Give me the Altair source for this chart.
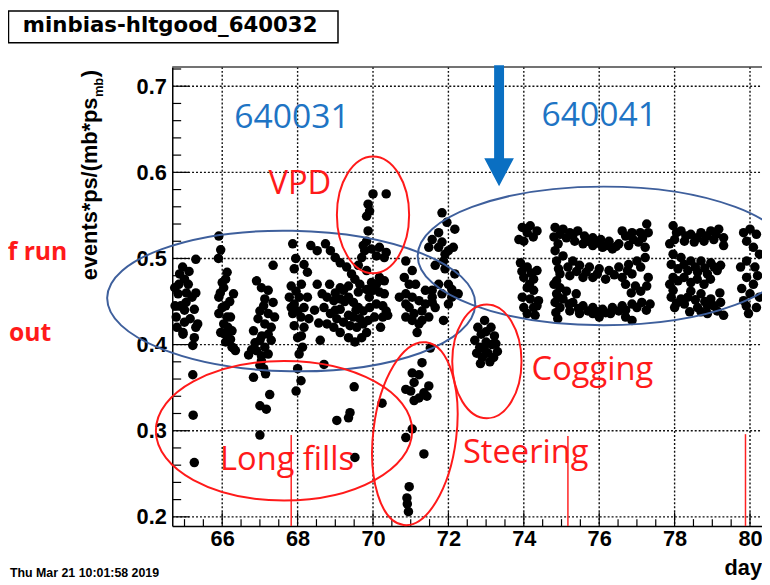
import altair as alt
import pandas as pd

# ---------------- data (day, events*ps/(mb*ps_mb)) ----------------
run_a = [(65.30,0.499),(64.87,0.482),(65.00,0.476),(64.74,0.466),(64.83,0.459),(65.04,0.449),
         (65.26,0.441),(64.78,0.432),(65.00,0.426),(65.35,0.424),(64.96,0.414),(65.26,0.408),
         (65.22,0.399),(65.10,0.470),(64.90,0.445),(65.15,0.430),(64.80,0.420),(65.05,0.460),
         (65.20,0.455),(65.30,0.420),(64.95,0.490),(64.96,0.412),(65.22,0.365),(65.23,0.318),
         (65.26,0.263),(64.85,0.470),(65.12,0.485),(65.00,0.440),(64.75,0.445),(65.30,0.460)]
run_b = [(65.91,0.526),(65.96,0.510),(66.13,0.484),(66.09,0.476),(66.04,0.466),(66.30,0.459),
         (65.91,0.455),(66.09,0.445),(65.91,0.436),(66.13,0.432),(66.04,0.424),(65.96,0.414),
         (66.13,0.410),(66.09,0.403),(66.26,0.397),(66.35,0.393),(66.00,0.443),(66.22,0.432),
         (66.00,0.472),(66.26,0.416),(66.04,0.413),(66.22,0.406),(66.30,0.396),(66.20,0.450),
         (65.95,0.460),(66.15,0.420),(65.90,0.500)]
run_c = [(67.35,0.492),(66.91,0.474),(67.04,0.466),(67.22,0.463),(67.13,0.453),(67.35,0.449),
         (67.00,0.439),(67.22,0.436),(67.39,0.432),(67.13,0.424),(66.83,0.416),(67.22,0.412),
         (67.00,0.405),(67.13,0.397),(66.91,0.393),(67.22,0.389),(67.04,0.381),(67.00,0.376),
         (66.83,0.362),(67.26,0.342),(67.00,0.329),(67.17,0.325),(67.00,0.295),(66.70,0.388),
         (66.87,0.402),(66.78,0.394),(67.04,0.387),(67.10,0.372),(67.15,0.366),(67.30,0.405),
         (67.10,0.445),(67.30,0.420),(66.95,0.430),(67.05,0.410)]
run_d = [(67.87,0.517),(68.35,0.515),(68.17,0.493),(67.91,0.488),(68.26,0.484),(67.83,0.468),
         (68.04,0.455),(68.26,0.455),(67.91,0.447),(67.87,0.436),(68.09,0.432),(67.91,0.422),
         (68.17,0.420),(68.00,0.408),(68.13,0.397),(68.04,0.389),(68.00,0.372),(68.09,0.358),
         (67.96,0.346),(67.83,0.443),(68.00,0.439),(68.17,0.443),(67.96,0.462),(67.78,0.455),
         (68.52,0.509),(68.70,0.377),(68.52,0.470),(68.45,0.440),(68.56,0.425),(68.60,0.405),
         (68.10,0.470),(67.95,0.500),(68.30,0.430),(68.10,0.410)]
run_e = [(68.74,0.517),(68.87,0.509),(69.00,0.501),(69.13,0.495),(69.30,0.490),(69.43,0.482),
         (69.52,0.476),(69.65,0.470),(69.83,0.464),(70.00,0.463),(70.17,0.461),(70.30,0.459),
         (68.65,0.459),(68.78,0.455),(68.96,0.451),(69.13,0.453),(69.35,0.455),(69.48,0.449),
         (69.61,0.443),(69.74,0.439),(69.91,0.443),(70.09,0.447),(70.26,0.445),(70.35,0.439),
         (68.70,0.443),(68.87,0.436),(69.04,0.430),(69.22,0.426),(69.39,0.422),(69.57,0.420),
         (69.74,0.424),(69.87,0.428),(70.04,0.432),(70.26,0.432),(70.39,0.434),(68.78,0.424),
         (68.96,0.420),(69.13,0.414),(69.35,0.408),(69.52,0.403),(69.70,0.408),(69.83,0.414),
         (69.13,0.466),(69.35,0.468),(69.61,0.461),(69.13,0.441),(69.35,0.434),(69.48,0.432),
         (69.96,0.472),(70.09,0.470),(70.17,0.478),(70.30,0.474),(69.83,0.486),(69.22,0.463),
         (69.50,0.351),(69.39,0.321),(69.04,0.312),(69.35,0.315),(69.52,0.269),
         (69.00,0.460),(69.25,0.450),(69.55,0.440),(69.90,0.455),(70.20,0.420),(69.65,0.430),
         (69.00,0.440),(68.85,0.470)]
run_vpd = [(70.00,0.575),(70.35,0.575),(69.87,0.563),(69.91,0.555),(69.83,0.549),(69.87,0.532),
           (69.83,0.520),(69.96,0.511),(70.17,0.513),(70.30,0.501),(69.70,0.501),(69.61,0.492),
           (70.09,0.503),(69.78,0.509),(70.35,0.507),(69.74,0.515)]
run_f = [(70.87,0.497),(70.83,0.478),(70.96,0.470),(71.04,0.455),(70.87,0.459),(71.22,0.451),
         (71.39,0.447),(70.96,0.443),(71.09,0.436),(71.30,0.439),(71.48,0.432),(71.04,0.428),
         (71.17,0.414),(71.57,0.449),(70.87,0.432),(71.22,0.424),(71.87,0.428),(71.83,0.553),
         (71.96,0.542),(72.17,0.534),(71.74,0.530),(71.57,0.522),(71.48,0.513),(71.74,0.513),
         (72.00,0.509),(71.87,0.497),(71.65,0.492),(71.91,0.488),(72.17,0.482),(72.26,0.459),
         (72.09,0.455),(71.74,0.470),(71.57,0.463),(72.00,0.470),(71.83,0.519),(71.91,0.505),
         (72.13,0.513),(71.04,0.486),(71.13,0.470),(71.39,0.463),(71.57,0.455),(71.83,0.459),
         (72.09,0.464),(72.00,0.447),(71.65,0.443),(70.87,0.447),(71.30,0.428),(70.70,0.455)]
run_steer = [(71.52,0.396),(71.30,0.379),(71.04,0.367),(71.22,0.365),(71.09,0.356),(71.00,0.346),
             (70.87,0.348),(71.48,0.352),(71.35,0.344),(71.22,0.338),(71.09,0.335),(71.43,0.340),
             (70.24,0.332),(71.04,0.302),(70.87,0.292),(71.35,0.273),(70.96,0.235),(70.91,0.215),
             (70.94,0.206),(70.90,0.222)]
run_cog = [(72.96,0.428),(72.78,0.420),(73.13,0.420),(72.87,0.412),(73.22,0.410),(72.70,0.405),
           (73.00,0.403),(73.26,0.401),(72.83,0.397),(72.75,0.390),(72.90,0.385),(73.05,0.390),
           (73.20,0.385),(72.85,0.378),(73.10,0.380),(73.00,0.415),(72.95,0.395),(73.15,0.400),
           (73.30,0.392)]
run_g = [(73.96,0.536),(74.17,0.538),(74.35,0.532),(73.87,0.522),(74.00,0.520),(74.09,0.530),
         (73.91,0.495),(74.09,0.490),(74.35,0.486),(74.00,0.478),(74.26,0.476),(74.09,0.466),
         (74.26,0.463),(73.96,0.455),(74.17,0.453),(74.39,0.451),(74.00,0.443),(74.26,0.443),
         (74.09,0.436),(74.30,0.434),(74.25,0.525),(73.95,0.485),(74.20,0.483),(74.15,0.470),
         (74.35,0.445)]
run_h = [(74.83,0.536),(75.04,0.534),(75.22,0.530),(75.43,0.532),(75.61,0.526),(75.83,0.524),
         (76.04,0.522),(76.26,0.520),(76.52,0.517),(76.70,0.526),(76.87,0.530),(77.09,0.530),
         (77.26,0.540),(76.61,0.532),(77.22,0.513),(77.04,0.519),(74.96,0.528),(75.13,0.524),
         (75.35,0.520),(75.57,0.517),(75.83,0.515),(76.09,0.513),(76.35,0.511),(76.78,0.515),
         (74.87,0.497),(75.04,0.503),(75.30,0.497),(75.17,0.490),(75.48,0.492),(75.74,0.490),
         (76.00,0.488),(76.26,0.486),(76.52,0.490),(76.78,0.493),(77.00,0.497),(77.22,0.501),
         (74.96,0.482),(75.22,0.480),(75.57,0.478),(75.83,0.478),(76.17,0.476),(76.61,0.478),
         (76.87,0.482),(77.26,0.468),(76.96,0.468),(76.70,0.470),(74.87,0.459),(75.04,0.453),
         (75.30,0.449),(75.57,0.445),(75.83,0.443),(76.09,0.441),(76.35,0.443),(76.61,0.445),
         (76.87,0.447),(77.13,0.449),(77.35,0.447),(74.96,0.443),(75.22,0.439),(75.48,0.436),
         (75.83,0.436),(76.17,0.437),(76.52,0.439),(76.87,0.428),(75.13,0.462),(75.39,0.459),
         (74.83,0.509),(74.91,0.517),(74.87,0.474),(74.96,0.466),(74.83,0.449),
         (74.80,0.525),(74.92,0.488),(74.80,0.470),(74.92,0.455),(74.85,0.437),(74.90,0.430),
         (75.70,0.520),(75.95,0.518),(76.20,0.515),(76.45,0.514),(76.90,0.522),(77.15,0.524),
         (77.30,0.530),(75.30,0.527),(75.40,0.485),(75.65,0.484),(75.95,0.482),(76.40,0.481),
         (76.75,0.486),(77.10,0.490),(77.30,0.478),(77.10,0.462),(76.85,0.460),(75.20,0.447),
         (75.45,0.442),(75.70,0.439),(75.95,0.438),(76.30,0.436),(76.70,0.440),(77.00,0.443),
         (77.25,0.440),(76.00,0.432),(76.70,0.432)]
run_i = [(77.96,0.538),(78.17,0.532),(78.43,0.528),(78.70,0.530),(78.96,0.532),(79.17,0.534),
         (78.00,0.522),(78.26,0.520),(78.52,0.519),(78.78,0.520),(79.04,0.522),(79.30,0.524),
         (77.96,0.505),(78.17,0.501),(78.43,0.497),(78.70,0.497),(78.96,0.495),(79.22,0.492),
         (78.09,0.488),(78.35,0.486),(78.61,0.484),(78.87,0.482),(79.13,0.486),(78.09,0.474),
         (78.43,0.472),(78.78,0.470),(77.91,0.455),(78.17,0.453),(78.43,0.462),(78.70,0.459),
         (78.96,0.453),(79.22,0.449),(78.00,0.443),(78.26,0.447),(78.61,0.443),(78.87,0.445),
         (79.13,0.439),(79.30,0.434),(78.87,0.436),(77.87,0.517),(77.91,0.493),(77.87,0.470),
         (77.96,0.463),(77.96,0.478),(78.05,0.530),(78.30,0.526),(78.60,0.524),(78.85,0.526),
         (79.10,0.528),(79.30,0.515),(78.25,0.493),(78.55,0.490),(78.80,0.489),(79.05,0.490),
         (78.25,0.478),(78.60,0.476),(78.95,0.476),(78.05,0.448),(78.35,0.455),(78.55,0.452),
         (78.80,0.450),(79.05,0.445),(78.40,0.438),(78.70,0.438),(79.20,0.460)]
run_j = [(80.00,0.534),(80.17,0.528),(79.91,0.520),(80.09,0.513),(79.91,0.497),(80.13,0.490),
         (79.91,0.478),(80.09,0.470),(80.00,0.459),(79.83,0.451),(80.17,0.443),(79.96,0.436),
         (79.83,0.530),(80.25,0.505),(79.78,0.465),(79.75,0.490),(80.20,0.480),(80.25,0.455),
         (79.90,0.445)]

x_tick_labels = [66, 68, 70, 72, 74, 76, 78, 80]
y_tick_labels = [0.2, 0.3, 0.4, 0.5, 0.6, 0.7]
x_minor_ticks = [65, 65.5, 66.5, 67, 67.5, 68.5, 69, 69.5, 70.5, 71, 71.5, 72.5, 73, 73.5,
                 74.5, 75, 75.5, 76.5, 77, 77.5, 78.5, 79, 79.5]
y_minor_ticks = [0.22, 0.24, 0.26, 0.28, 0.32, 0.34, 0.36, 0.38, 0.42, 0.44, 0.46, 0.48,
                 0.52, 0.54, 0.56, 0.58, 0.62, 0.64, 0.66, 0.68, 0.72]

marker_days = [67.83, 75.17, 79.88]
marker_tops = [0.295, 0.294, 0.296]

run_labels = ["640031", "640041"]
run_label_days = [67.85, 76.0]
run_label_vals = [0.651, 0.654]

note_labels = ["VPD", "Long fills", "Steering", "Cogging"]
note_days = [68.06, 67.72, 74.05, 75.82]
note_vals = [0.575, 0.254, 0.263, 0.359]

# annotation ellipses: centre (day, value), pixel width/height, tilt, colour
ell_days = [67.83, 76.12, 70.00, 67.64, 71.11, 73.02]
ell_vals = [0.4506, 0.503, 0.5506, 0.300, 0.2966, 0.3805]
ell_w = [372, 376, 73, 259, 84, 70]
ell_h = [142, 140, 118, 141, 186, 115]
ell_angle = [1, 0, 0, 0, 7, 0]
ell_color = ["#3E5F9C", "#3E5F9C", "#FF1A1A", "#FF1A1A", "#FF1A1A", "#FF1A1A"]

arrow_day = [73.344]
arrow_val = [0.6542]

# ---------------- chart ----------------
W, H = 596, 464
xs = alt.Scale(domain=[64.675, 80.318], nice=False, zero=False)
ys = alt.Scale(domain=[0.1893, 0.7224], nice=False, zero=False)

pts = pd.DataFrame(run_a + run_b + run_c + run_d + run_e + run_vpd + run_f + run_steer +
                   run_cog + run_g + run_h + run_i + run_j, columns=["day", "rate"])

AX_FONT = "Liberation Sans"
SLIDE_FONT = "Open Sans"

# dotted ROOT-style grid
grid_x = alt.Chart(pd.DataFrame({"v": x_tick_labels})).mark_rule(
    color="#111111", strokeWidth=1.4, strokeDash=[2, 2], opacity=1).encode(
    x=alt.X("v:Q", scale=xs, axis=None), y=alt.value(0), y2=alt.value(H))
grid_y = alt.Chart(pd.DataFrame({"v": y_tick_labels})).mark_rule(
    color="#111111", strokeWidth=1.4, strokeDash=[2, 2], opacity=1).encode(
    y=alt.Y("v:Q", scale=ys, axis=None), x=alt.value(0), x2=alt.value(W))

points = alt.Chart(pts).mark_circle(size=92, color="black", opacity=1).encode(
    x=alt.X("day:Q", scale=xs, axis=alt.Axis(
        values=x_tick_labels, format="d", grid=False, ticks=False, tickSize=0, domain=True,
        domainColor="black", domainWidth=1.5, labelFont=AX_FONT, labelFontWeight="bold",
        labelFontSize=22, labelColor="black", labelPadding=3, labelFlush=False,
        labelOverlap=False, title=None)),
    y=alt.Y("rate:Q", scale=ys, axis=alt.Axis(
        values=y_tick_labels, format=".1f", grid=False, ticks=False, tickSize=0, domain=True,
        domainColor="black", domainWidth=1.5, labelFont=AX_FONT, labelFontWeight="bold",
        labelFontSize=22, labelColor="black", labelPadding=6, labelFlush=False,
        labelOverlap=False, title=None)),
)

top_frame = alt.Chart(pd.DataFrame({"k": [0]})).mark_rule(color="#444", strokeWidth=1.5).encode(
    x=alt.value(0), x2=alt.value(W), y=alt.value(0))

ymaj = alt.Chart(pd.DataFrame({"v": y_tick_labels})).mark_rule(color="black", strokeWidth=1.2).encode(
    y=alt.Y("v:Q", scale=ys, axis=None), x=alt.value(0), x2=alt.value(17))
ymin = alt.Chart(pd.DataFrame({"v": y_minor_ticks})).mark_rule(color="black", strokeWidth=1.2).encode(
    y=alt.Y("v:Q", scale=ys, axis=None), x=alt.value(0), x2=alt.value(9))
xmaj = alt.Chart(pd.DataFrame({"v": x_tick_labels})).mark_rule(color="black", strokeWidth=1.2).encode(
    x=alt.X("v:Q", scale=xs, axis=None), y=alt.value(H), y2=alt.value(H - 14))
xmin = alt.Chart(pd.DataFrame({"v": x_minor_ticks})).mark_rule(color="black", strokeWidth=1.2).encode(
    x=alt.X("v:Q", scale=xs, axis=None), y=alt.value(H), y2=alt.value(H - 7))

markers = alt.Chart(pd.DataFrame({"day": marker_days, "top": marker_tops})).mark_rule(
    color="#FF2222", strokeWidth=1.5).encode(
    x=alt.X("day:Q", scale=xs, axis=None), y=alt.Y("top:Q", scale=ys, axis=None), y2=alt.value(H))


def ellipse_path(w, h):
    if w >= h:
        r = h / w
        return f"M -1 0 A 1 {r:.4f} 0 1 1 1 0 A 1 {r:.4f} 0 1 1 -1 0", w * w
    r = w / h
    return f"M 0 -1 A {r:.4f} 1 0 1 1 0 1 A {r:.4f} 1 0 1 1 0 -1", h * h


ell_rows = []
for d, v, w, h, a, c in zip(ell_days, ell_vals, ell_w, ell_h, ell_angle, ell_color):
    p, s = ellipse_path(w, h)
    ell_rows.append({"day": d, "rate": v, "path": p, "size": s, "angle": a, "color": c})
ellipses = alt.Chart(pd.DataFrame(ell_rows)).mark_point(filled=False, strokeWidth=2, opacity=1).encode(
    x=alt.X("day:Q", scale=xs, axis=None), y=alt.Y("rate:Q", scale=ys, axis=None),
    shape=alt.Shape("path:N", scale=None), size=alt.Size("size:Q", scale=None),
    angle=alt.Angle("angle:Q", scale=None), color=alt.Color("color:N", scale=None))

arrow = alt.Chart(pd.DataFrame({"day": arrow_day, "rate": arrow_val})).mark_point(
    filled=True, opacity=1, color="#0A6FC2", strokeWidth=0, size=122.3 ** 2,
    shape="M -0.082 -1 L 0.082 -1 L 0.082 0.537 L 0.245 0.537 L 0 1 L -0.245 0.537 L -0.082 0.537 Z"
).encode(x=alt.X("day:Q", scale=xs, axis=None), y=alt.Y("rate:Q", scale=ys, axis=None))

run_text = alt.Chart(pd.DataFrame({"day": run_label_days, "rate": run_label_vals, "t": run_labels})).mark_text(
    font=SLIDE_FONT, fontSize=34, color="#1E74C4", align="center", baseline="alphabetic").encode(
    x=alt.X("day:Q", scale=xs, axis=None), y=alt.Y("rate:Q", scale=ys, axis=None), text="t:N")

note_text = alt.Chart(pd.DataFrame({"day": note_days, "rate": note_vals, "t": note_labels})).mark_text(
    font=SLIDE_FONT, fontSize=33, color="#FF1A1A", align="center", baseline="alphabetic").encode(
    x=alt.X("day:Q", scale=xs, axis=None), y=alt.Y("rate:Q", scale=ys, axis=None), text="t:N")

one = pd.DataFrame({"k": [0]})


def ptext(txt, x, y, **kw):
    return alt.Chart(one).mark_text(text=txt, **kw).encode(x=alt.value(x), y=alt.value(y))


left_notes = alt.layer(
    ptext("f run", -106, 195.5, font=SLIDE_FONT, fontSize=25, fontWeight="bold", color="#FF1A1A",
          align="right", baseline="alphabetic"),
    ptext("out", -165, 277, font=SLIDE_FONT, fontSize=25, fontWeight="bold", color="#FF1A1A",
          align="left", baseline="alphabetic"),
)

title_box = alt.Chart(one).mark_rect(fill="white", stroke="black", strokeWidth=1.5).encode(
    x=alt.value(-165.5), x2=alt.value(167.5), y=alt.value(-56.5), y2=alt.value(-24.5))
title_text = ptext("minbias-hltgood_640032", -151, -35, font="DejaVu Sans", fontWeight="bold",
                   fontSize=21.5, color="black", align="left", baseline="alphabetic")

ytitle = alt.layer(
    ptext("events*ps/(mb*ps", -76, 215.5, font=AX_FONT, fontWeight="bold", fontSize=22,
          color="black", align="left", baseline="alphabetic", angle=270),
    ptext("mb", -70, 30.5, font=AX_FONT, fontWeight="bold", fontSize=13,
          color="black", align="left", baseline="alphabetic", angle=270),
    ptext(")", -76, 10.5, font=AX_FONT, fontWeight="bold", fontSize=22,
          color="black", align="left", baseline="alphabetic", angle=270),
)

stamp = ptext("Thu Mar 21 10:01:58 2019", -164, 515.5, font=AX_FONT, fontWeight="bold",
              fontSize=12.5, color="black", align="left", baseline="alphabetic")
xtitle = ptext("day", W, 513.5, font=AX_FONT, fontWeight="bold", fontSize=22, color="black",
               align="right", baseline="alphabetic")

chart = alt.layer(
    grid_x, grid_y, points, top_frame, ymaj, ymin, xmaj, xmin, markers, ellipses, arrow,
    run_text, note_text, left_notes, title_box, title_text, ytitle, stamp, xtitle,
).resolve_axis(x="independent", y="independent").properties(
    width=W, height=H,
    autosize=alt.AutoSizeParams(type="none"),
    padding={"left": 166, "top": 56.5, "right": 0, "bottom": 55},
    background="white",
).configure_view(stroke=None)

chart.save("out.html", embed_options={"renderer": "svg", "actions": False})
